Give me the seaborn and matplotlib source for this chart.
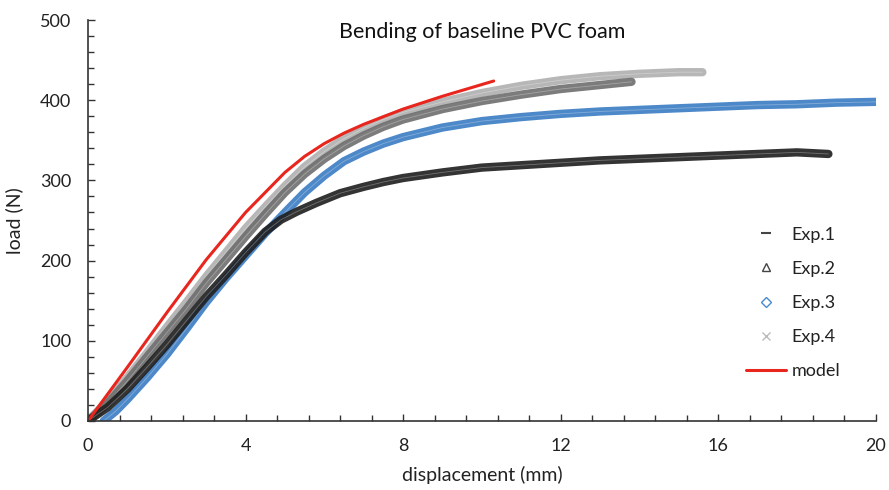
import numpy as np
import pandas as pd
import matplotlib.pyplot as plt
import seaborn as sns
from matplotlib.lines import Line2D
from matplotlib.ticker import MultipleLocator

# values (displacement mm, load N)
exp1_x = [0, 0.5, 1, 1.5, 2, 2.5, 3, 3.5, 4, 4.5, 4.9, 5.3, 5.8, 6.4, 7, 7.5, 8, 9, 10, 11, 12, 13, 14, 15, 16, 17, 18, 18.8]
exp1_y = [0, 17, 40, 67, 95, 125, 155, 182, 210, 236, 251, 261, 272, 284, 292, 298, 303, 310, 316, 319, 322, 325, 327, 329, 331, 333, 335, 333]

exp2_x = [0, 0.5, 1, 1.5, 2, 2.5, 3, 3.5, 4, 4.5, 5, 5.5, 6, 6.5, 7, 7.5, 8, 9, 10, 11, 12, 13, 13.8]
exp2_y = [0, 22, 50, 80, 110, 140, 172, 201, 230, 258, 285, 308, 327, 343, 356, 367, 376, 389, 399, 407, 414, 419, 423]

exp3_x = [0.4, 0.7, 1, 1.5, 2, 2.5, 3, 3.5, 4, 4.5, 5, 5.5, 6, 6.5, 7, 7.5, 8, 9, 10, 11, 12, 13, 14, 15, 16, 17, 18, 19, 20]
exp3_y = [0, 12, 27, 54, 83, 115, 148, 178, 206, 234, 260, 285, 306, 324, 336, 346, 354, 366, 374, 379, 383, 386, 388, 390, 392, 394, 395, 397, 398]

exp4_x = [0, 0.5, 1, 1.5, 2, 2.5, 3, 3.5, 4, 4.5, 5, 5.5, 6, 6.5, 7, 7.5, 8, 9, 10, 11, 12, 13, 14, 15, 15.6]
exp4_y = [0, 25, 54, 85, 117, 148, 180, 210, 240, 267, 293, 317, 336, 352, 365, 376, 385, 398, 409, 418, 425, 430, 433, 435, 435]

model_x = [0, 1, 2, 3, 4, 4.6, 5, 5.5, 6, 6.5, 7, 8, 9, 10.3]
model_y = [0, 67, 135, 201, 260, 290, 310, 330, 346, 359, 370, 389, 405, 424]

labels = ["Exp.1", "Exp.2", "Exp.3", "Exp.4", "model"]

sns.set_style("ticks")
plt.rcParams['font.family'] = ['Lato', 'DejaVu Sans']
txt = "#222222"

fig = plt.figure(figsize=(8.89, 4.9), dpi=100)
ax = fig.add_axes([0.099, 0.141, 0.886, 0.818])

series = [
    (exp4_x, exp4_y, "#b0b0b0"),
    (exp2_x, exp2_y, "#6e6e6e"),
    (exp3_x, exp3_y, "#3a7cc3"),
    (exp1_x, exp1_y, "#1e1e1e"),
]
for xs, ys, col in series:
    sns.lineplot(x=xs, y=ys, ax=ax, color=col, lw=6, sort=False, alpha=0.9)
    sns.lineplot(x=xs, y=ys, ax=ax, color="white", lw=0.6, sort=False, alpha=0.3)
sns.lineplot(x=model_x, y=model_y, ax=ax, color="#e8261e", lw=2.2, sort=False)

ax.set_xlim(0, 20)
ax.set_ylim(0, 500)
ax.xaxis.set_major_locator(MultipleLocator(4))
ax.xaxis.set_minor_locator(MultipleLocator(0.8))
ax.yaxis.set_major_locator(MultipleLocator(100))
ax.yaxis.set_minor_locator(MultipleLocator(20))
ax.tick_params(which="both", direction="in", color="#333333", labelsize=13, labelcolor=txt)
ax.tick_params(which="major", length=5, width=1)
ax.tick_params(which="minor", length=4, width=1)
ax.tick_params(axis="y", which="both", pad=12)
ax.tick_params(axis="x", which="both", pad=12)
for s in ["top", "right"]:
    ax.spines[s].set_visible(False)
for s in ["left", "bottom"]:
    ax.spines[s].set_color("#333333")
    ax.spines[s].set_linewidth(1.2)

ax.set_xlabel("displacement (mm)", fontsize=14, color=txt, labelpad=9)
ax.set_ylabel("load (N)", fontsize=14, color=txt, labelpad=12)
ax.set_title("Bending of baseline PVC foam", fontsize=15.5, color="#111111", y=0.935)

handles = [
    Line2D([], [], ls="none", marker="_", color="#444444", ms=7, mew=1.5),
    Line2D([], [], ls="none", marker="^", mfc="none", mec="#444444", ms=6, mew=1),
    Line2D([], [], ls="none", marker="D", mfc="none", mec="#4a8ad0", ms=5, mew=1),
    Line2D([], [], ls="none", marker="x", color="#bbbbbb", ms=6, mew=1),
    Line2D([], [], color="#e8261e", lw=2.2),
]
ax.legend(handles, labels, loc="upper left", bbox_to_anchor=(0.815, 0.525), frameon=False,
          fontsize=13, labelspacing=1.0, handlelength=2.2, handletextpad=0.3,
          labelcolor=txt)

fig.savefig("out.png", dpi=100)
